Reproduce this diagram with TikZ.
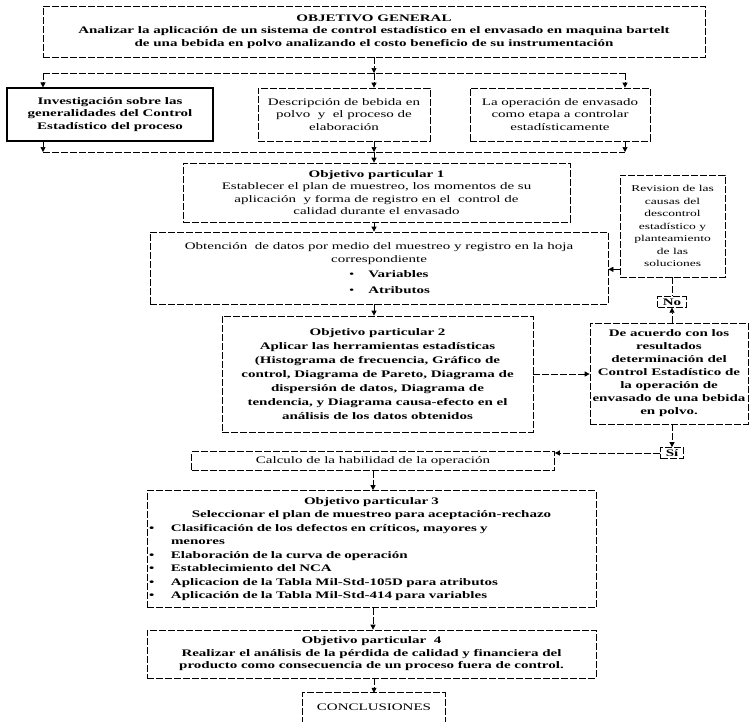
\documentclass[tikz,border=0pt]{standalone}
\usepackage{fontspec}
\setmainfont{Liberation Serif}[FakeStretch=1.5]
\usetikzlibrary{arrows.meta}
\begin{document}
\begin{tikzpicture}[x=1pt,y=-1pt,
  ln/.style={line width=0.7pt, dash pattern=on 7pt off 2pt},
  bx/.style={ln, draw, inner sep=2pt, align=center, font=\fontsize{10}{12.5}\selectfont},
  bbx/.style={bx, font=\bfseries\fontsize{10}{12.5}\selectfont},
  arr/.style={ln, -{Triangle[length=5pt,width=5pt]}},
  lbl/.style={bx, inner xsep=5pt, inner ysep=2pt, font=\bfseries\fontsize{10}{12}\selectfont}]
\useasboundingbox (0,0) rectangle (751,721);

% objetivo general
\node[bbx, minimum width=662pt, minimum height=51pt] (gen) at (374,31.5)
  {OBJETIVO GENERAL\\Analizar la aplicación de un sistema de control estadístico en el envasado en maquina bartelt\\de una bebida en polvo analizando el costo beneficio de su instrumentación};

% first row
\node[bbx, solid, line width=1.1pt, minimum width=206pt, minimum height=53pt] (inv) at (110,114.5)
  {Investigación sobre las\\generalidades del Control\\Estadístico del proceso};
\node[bx, minimum width=172pt, minimum height=53pt] (des) at (344,114.5)
  {Descripción de bebida en\\polvo \ y \ el proceso de\\elaboración};
\node[bx, minimum width=180pt, minimum height=53pt] (ope) at (560,114.5)
  {La operación de envasado\\como etapa a controlar\\estadísticamente};

\coordinate (t0) at (374,73);
\coordinate (tl) at (43,73);
\coordinate (tr) at (625,73);
\draw[arr] (gen.south) -- (t0);
\draw[ln] (tl) -- (tr);
\draw[arr] (tl) -- (tl |- inv.north);
\draw[arr] (t0) -- (t0 |- des.north);
\draw[arr] (tr) -- (tr |- ope.north);

\coordinate (b0) at (374,152);
\coordinate (bl) at (43,152);
\coordinate (br) at (625,152);
\draw[arr] (bl |- inv.south) -- (bl);
\draw[arr] (b0 |- des.south) -- (b0);
\draw[arr] (br |- ope.south) -- (br);
\draw[ln] (bl) -- (br);

% objetivo 1
\node[bx, minimum width=387pt, minimum height=59pt] (obj1) at (376.5,192.5)
  {\textbf{Objetivo particular 1}\\Establecer el plan de muestreo, los momentos de su\\aplicación \ y forma de registro en el \ control de\\calidad durante el envasado};
\draw[arr] (b0) -- (b0 |- obj1.north);

% obtencion
\node[bx, minimum width=458pt, minimum height=72pt] (obt) at (379,268)
  {Obtención \ de datos por medio del muestreo y registro en la hoja\\correspondiente\\[3pt]
   \makebox[6em][l]{•\hspace{1.4em}\textbf{Variables}}\\[3pt]
   \makebox[6em][l]{•\hspace{1.4em}\textbf{Atributos}}};
\draw[arr] (b0 |- obj1.south) -- (b0 |- obt.north);

% revision
\node[bx, minimum width=105pt, minimum height=102pt, font=\fontsize{9}{12.5}\selectfont] (rev) at (672.5,226)
  {Revision de las\\causas del\\descontrol\\estadístico y\\planteamiento\\de las\\soluciones};
\draw[arr] ([yshift=8pt]rev.south west) -- ([yshift=8pt]rev.south west -| obt.east);

% objetivo 2
\node[bbx, font=\bfseries\fontsize{10}{14}\selectfont, minimum width=311pt, minimum height=116pt] (obj2) at (377.5,374)
  {Objetivo particular 2\\Aplicar las herramientas estadísticas\\(Histograma de frecuencia, Gráfico de\\control, Diagrama de Pareto, Diagrama de\\dispersión de datos, Diagrama de\\tendencia, y Diagrama causa-efecto en el\\análisis de los datos obtenidos};
\draw[arr] (b0 |- obt.south) -- (b0 |- obj2.north);

% de acuerdo
\node[bbx, font=\bfseries\fontsize{10}{13}\selectfont, minimum width=158pt, minimum height=101pt] (acu) at (669,373.5)
  {De acuerdo con los\\resultados\\determinación del\\Control Estadístico de\\la operación de\\envasado de una bebida\\en polvo.};
\draw[arr] (obj2.east) -- (obj2.east -| acu.west);

\node[lbl] (no) at (672,302) {No};
\draw[ln] (no.north |- rev.south) -- (no.north);
\draw[arr] (no.south |- acu.north) -- (no.south);

% calculo
\node[bx, minimum width=363pt, minimum height=19pt] (cal) at (373,461)
  {Calculo de la habilidad de la operación};
\node[lbl] (si) at (672,453) {Sí};
\draw[arr] (si.north |- acu.south) -- (si.north);
\draw[arr] (si.west) -- (si.west -| cal.east);

% objetivo 3
\node[bx, font=\bfseries\fontsize{10}{13.5}\selectfont, text width=445pt, align=left, minimum height=117pt] (obj3) at (371.5,549)
  {\centering Objetivo particular 3\\Seleccionar el plan de muestreo para aceptación-rechazo\par
   \raggedright
   \makebox[22pt][l]{•}Clasificación de los defectos en críticos, mayores y\\
   \hspace*{22pt}menores\\
   \makebox[22pt][l]{•}Elaboración de la curva de operación\\
   \makebox[22pt][l]{•}Establecimiento del NCA\\
   \makebox[22pt][l]{•}Aplicacion de la Tabla Mil-Std-105D para atributos\\
   \makebox[22pt][l]{•}Aplicación de la Tabla Mil-Std-414 para variables\par};
\draw[arr] (cal.south) -- (cal.south |- obj3.north);

% objetivo 4
\node[bbx, minimum width=449pt, minimum height=48pt] (obj4) at (371.5,654)
  {Objetivo particular \ 4\\Realizar el análisis de la pérdida de calidad y financiera del\\producto como consecuencia de un proceso fuera de control.};
\draw[arr] (cal.south |- obj3.south) -- (cal.south |- obj4.north);

% conclusiones
\node[minimum width=142pt, minimum height=28pt, inner sep=2pt, font=\fontsize{10}{12}\selectfont] (conc) at (374,707) {CONCLUSIONES};
\draw[ln] ([yshift=-12pt]conc.south west) -- (conc.north west) -- (conc.north east) -- ([yshift=-12pt]conc.south east);
\draw[arr] (conc.north |- obj4.south) -- (conc.north);
\end{tikzpicture}
\end{document}
